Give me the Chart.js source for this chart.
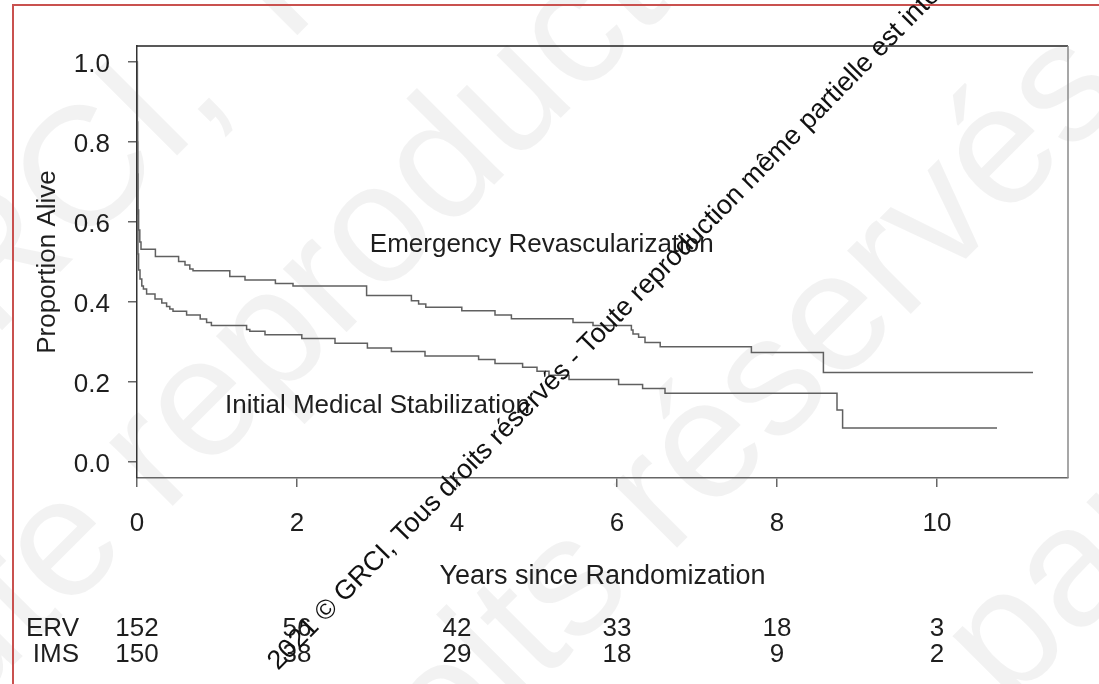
<!DOCTYPE html>
<html>
<head>
<meta charset="utf-8">
<title>Survival by treatment strategy</title>
<script src="https://cdn.jsdelivr.net/npm/chart.js@4.4.1/dist/chart.umd.min.js"></script>
<style>
  html, body { margin: 0; padding: 0; background: #ffffff; }
  canvas { display: block; }
</style>
</head>
<body>
<canvas id="km" width="1099" height="684"></canvas>
<script>
// Kaplan-Meier estimates: time (years) at which the curve steps, and survival from that time on
const ervTimes = [0, 0.004, 0.008, 0.012, 0.02, 0.035, 0.05, 0.23, 0.52, 0.6, 0.66, 0.7, 1.16, 1.35, 1.73, 1.95,
  2.87, 3.43, 3.52, 3.61, 4.06, 4.475, 4.68, 5.45, 5.70, 6.18, 6.2, 6.27, 6.35, 6.54, 7.68, 8.58, 11.2];
const ervSurv = [1.0, 0.85, 0.72, 0.63, 0.58, 0.55, 0.532, 0.514, 0.501, 0.4925, 0.4825, 0.478, 0.464, 0.455, 0.446, 0.44,
  0.416, 0.403, 0.395, 0.387, 0.378, 0.3675, 0.358, 0.349, 0.341, 0.33, 0.32, 0.312, 0.299, 0.288, 0.2735, 0.224, 0.224];

const imsTimes = [0, 0.004, 0.008, 0.012, 0.02, 0.0375, 0.06, 0.08, 0.12, 0.225, 0.31, 0.37, 0.41, 0.45, 0.62, 0.79,
  0.87, 0.93, 1.37, 1.41, 1.6, 2.06, 2.475, 2.88, 3.18, 3.6, 4.27, 4.475, 4.82, 5.0, 5.15, 5.4, 6.02, 6.32, 6.6,
  8.75, 8.82, 10.75];
const imsSurv = [1.0, 0.8, 0.62, 0.52, 0.48, 0.4575, 0.44, 0.4325, 0.42, 0.4075, 0.3975, 0.389, 0.3825, 0.377, 0.3675, 0.3575,
  0.349, 0.341, 0.331, 0.327, 0.318, 0.309, 0.297, 0.285, 0.276, 0.265, 0.256, 0.246, 0.237, 0.227, 0.217, 0.206, 0.194, 0.184, 0.172,
  0.13, 0.085, 0.085];

// Axis ticks
const xTickValues = [0, 2, 4, 6, 8, 10];
const yTickValues = [0.0, 0.2, 0.4, 0.6, 0.8, 1.0];

// Numbers at risk under the x axis, one value per x tick
const riskGroups = ['ERV', 'IMS'];
const ervAtRisk = [152, 56, 42, 33, 18, 3];
const imsAtRisk = [150, 38, 29, 18, 9, 2];

// Curve labels placed in data coordinates (x, y)
const curveLabels = [
  { text: 'Emergency Revascularization', x: 5.06, y: 0.5425 },
  { text: 'Initial Medical Stabilization', x: 3.006, y: 0.14 }
];

const notice = '2021 \u00A9 GRCI, Tous droits r\u00E9serv\u00E9s - Toute reproduction m\u00EAme partielle est interdite';

const FONT = "'Liberation Sans', Arial, sans-serif";
const TEXT = '#1e1e1e';

// Large pale copyright lines behind the chart: [start along the line, line offset]
const noticeRows = [[-976, 235], [-3500, 480], [-1907, 866], [-4552, 1213]];

const pageDecor = {
  id: 'pageDecor',
  beforeDraw(chart) {
    const ctx = chart.ctx;
    ctx.save();
    ctx.fillStyle = '#ffffff';
    ctx.fillRect(0, 0, chart.width, chart.height);
    ctx.rotate(-Math.PI / 4);
    ctx.fillStyle = 'rgba(0,0,0,0.05)';
    ctx.font = '170px ' + FONT;
    ctx.textBaseline = 'alphabetic';
    ctx.textAlign = 'left';
    for (const [u, v] of noticeRows) ctx.fillText(notice, u, v);
    ctx.restore();

    // red frame
    ctx.save();
    ctx.strokeStyle = '#c9514f';
    ctx.lineWidth = 2;
    ctx.beginPath();
    ctx.moveTo(13, chart.height);
    ctx.lineTo(13, 5);
    ctx.lineTo(chart.width, 5);
    ctx.stroke();
    ctx.restore();
  },
  beforeDatasetsDraw(chart) {
    const { ctx, chartArea: a } = chart;
    ctx.save();
    ctx.lineWidth = 1.5;
    ctx.strokeStyle = '#222';
    ctx.beginPath();
    ctx.moveTo(a.left, a.top);
    ctx.lineTo(a.right, a.top);
    ctx.stroke();
    ctx.strokeStyle = '#8a8a8a';
    ctx.beginPath();
    ctx.moveTo(a.right, a.top);
    ctx.lineTo(a.right, a.bottom);
    ctx.stroke();
    ctx.restore();
  },
  afterDraw(chart) {
    const ctx = chart.ctx;
    const xs = chart.scales.x, ys = chart.scales.y;
    ctx.save();
    ctx.fillStyle = TEXT;
    ctx.font = '26px ' + FONT;
    ctx.textBaseline = 'middle';

    // curve labels
    ctx.textAlign = 'center';
    for (const l of curveLabels) {
      ctx.fillText(l.text, xs.getPixelForValue(l.x), ys.getPixelForValue(l.y));
    }

    // numbers at risk
    const rows = [ervAtRisk, imsAtRisk];
    const rowY = [629, 655];
    rows.forEach((vals, r) => {
      ctx.textAlign = 'right';
      ctx.fillText(riskGroups[r], 79, rowY[r]);
      ctx.textAlign = 'center';
      vals.forEach((n, i) => ctx.fillText(String(n), xs.getPixelForValue(xTickValues[i]), rowY[r]));
    });

    // diagonal copyright line on top
    ctx.translate(278, 671);
    ctx.rotate(-45.5 * Math.PI / 180);
    ctx.font = '27px ' + FONT;
    ctx.textAlign = 'left';
    ctx.textBaseline = 'alphabetic';
    ctx.fillStyle = '#111';
    ctx.fillText(notice, 0, 0);
    ctx.restore();
  }
};

const toPoints = (ts, vs) => ts.map((t, i) => ({ x: t, y: vs[i] }));

new Chart(document.getElementById('km'), {
  type: 'line',
  data: {
    datasets: [
      { label: 'ERV', data: toPoints(ervTimes, ervSurv), stepped: 'before',
        borderColor: '#606060', borderWidth: 1.5, pointRadius: 0, fill: false },
      { label: 'IMS', data: toPoints(imsTimes, imsSurv), stepped: 'before',
        borderColor: '#606060', borderWidth: 1.5, pointRadius: 0, fill: false }
    ]
  },
  options: {
    responsive: false,
    animation: false,
    devicePixelRatio: 1,
    layout: { padding: { left: 0, top: 46, right: 31, bottom: 86 } },
    plugins: { legend: { display: false }, tooltip: { enabled: false } },
    scales: {
      x: {
        type: 'linear',
        min: 0,
        max: 11.6375,
        afterBuildTicks: s => { s.ticks = xTickValues.map(v => ({ value: v })); },
        afterFit: s => { s.height = 120; },
        ticks: { font: { family: FONT, size: 26 }, color: TEXT, padding: 21, maxRotation: 0, autoSkip: false,
                 callback: v => String(v) },
        grid: { drawOnChartArea: false, drawTicks: true, tickLength: 9, color: '#666', lineWidth: 1.5 },
        border: { display: true, color: '#666', width: 1.5 },
        title: { display: true, text: 'Years since Randomization', font: { family: FONT, size: 27 }, color: TEXT,
                 padding: { top: 0, bottom: 5 } }
      },
      y: {
        min: -0.04,
        max: 1.04,
        afterBuildTicks: s => { s.ticks = yTickValues.map(v => ({ value: v })); },
        afterFit: s => { s.width = 137; },
        ticks: { font: { family: FONT, size: 26 }, color: TEXT, padding: 18, labelOffset: 3,
                 callback: v => Number(v).toFixed(1) },
        grid: { drawOnChartArea: false, drawTicks: true, tickLength: 9, color: '#666', lineWidth: 1.5 },
        border: { display: true, color: '#333', width: 1.5 },
        title: { display: true, text: 'Proportion Alive', font: { family: FONT, size: 26 }, color: TEXT,
                 padding: { top: 32, bottom: 0 } }
      }
    }
  },
  plugins: [pageDecor]
});
</script>
</body>
</html>
